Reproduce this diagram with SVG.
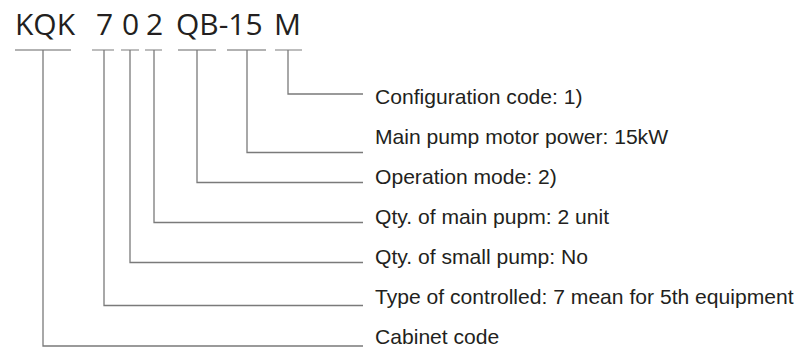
<svg xmlns="http://www.w3.org/2000/svg" width="802" height="355" viewBox="0 0 802 355">
<style>
.code{font-family:"Open Sans","Noto Sans","DejaVu Sans",sans-serif;font-size:30px;fill:#231f20}
.lbl{font-family:"Liberation Sans",Arial,sans-serif;font-size:21.1px;fill:#231f20}
.ul{stroke:#999999;stroke-width:1.3;fill:none}
.con{stroke:#7a7a7a;stroke-width:1.3;fill:none}
</style>
<rect width="802" height="355" fill="#ffffff"/>
<g id="code-KQK"><text class="code" x="15" y="35">KQK</text><line class="ul" x1="15" y1="50" x2="71" y2="50"/></g>
<g id="code-7"><text class="code" x="96" y="35">7</text><line class="ul" x1="92" y1="50" x2="114" y2="50"/></g>
<g id="code-0"><text class="code" x="122" y="35">0</text><line class="ul" x1="121" y1="50" x2="139" y2="50"/></g>
<g id="code-2"><text class="code" x="146" y="35">2</text><line class="ul" x1="145" y1="50" x2="162" y2="50"/></g>
<g id="code-QB"><text class="code" x="176" y="35">QB-15</text><line class="ul" x1="178" y1="50" x2="216" y2="50"/><line class="ul" x1="227" y1="50" x2="266" y2="50"/></g>
<g id="code-M"><text class="code" x="274" y="35">M</text><line class="ul" x1="275" y1="50" x2="302" y2="50"/></g>
<g id="connectors">
<polyline class="con" points="288,50 288,94 363,94"/>
<polyline class="con" points="247,50 247,152.5 363,152.5"/>
<polyline class="con" points="197,50 197,182.5 363,182.5"/>
<polyline class="con" points="154,50 154,222.5 363,222.5"/>
<polyline class="con" points="130,50 130,262.5 363,262.5"/>
<polyline class="con" points="104,50 104,305.5 363,305.5"/>
<polyline class="con" points="43,50 43,346 363,346"/>
</g>
<g id="label-config"><text class="lbl" x="375" y="104">Configuration code: 1)</text></g>
<g id="label-power"><text class="lbl" x="375" y="144">Main pump motor power: 15kW</text></g>
<g id="label-mode"><text class="lbl" x="375" y="184">Operation mode: 2)</text></g>
<g id="label-main"><text class="lbl" x="375" y="224">Qty. of main pupm: 2 unit</text></g>
<g id="label-small"><text class="lbl" x="375" y="264">Qty. of small pump: No</text></g>
<g id="label-type"><text class="lbl" x="375" y="304">Type of controlled: 7 mean for 5th equipment</text></g>
<g id="label-cabinet"><text class="lbl" x="375" y="344">Cabinet code</text></g>
</svg>
